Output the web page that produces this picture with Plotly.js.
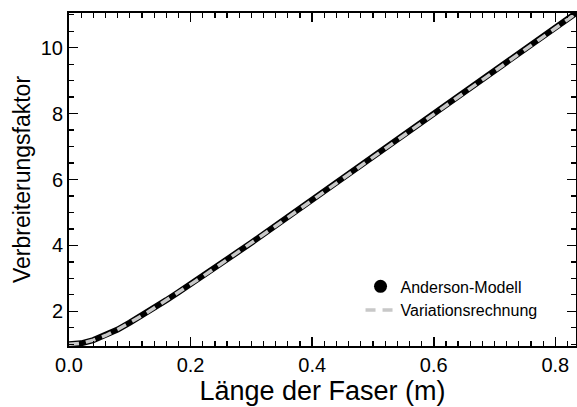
<!DOCTYPE html>
<html>
<head>
<meta charset="utf-8">
<script src="https://cdn.plot.ly/plotly-3.0.1.min.js"></script>
<style>html,body{margin:0;padding:0;background:#fff;}#chart{width:577px;height:407px;}</style>
</head>
<body>
<div id="chart"></div>
<script>
// Length of fibre (m)
var lengthM = [0.00,0.02,0.04,0.06,0.08,0.10,0.12,0.14,0.16,0.18,0.20,0.22,0.24,0.26,0.28,0.30,0.32,0.34,0.36,0.38,0.40,0.42,0.44,0.46,0.48,0.50,0.52,0.54,0.56,0.58,0.60,0.62,0.64,0.66,0.68,0.70,0.72,0.74,0.76,0.78,0.80,0.82,0.834];
// Broadening factor, Anderson model
var andersonFactor = [1.00,1.03,1.13,1.28,1.45,1.66,1.87,2.10,2.34,2.58,2.82,3.07,3.32,3.57,3.83,4.08,4.34,4.60,4.85,5.11,5.37,5.63,5.89,6.15,6.41,6.67,6.93,7.19,7.46,7.72,7.98,8.24,8.50,8.76,9.03,9.29,9.55,9.81,10.08,10.34,10.60,10.86,11.05];
// Broadening factor, variational calculation
var variationFactor = [1.00,1.03,1.13,1.27,1.45,1.65,1.87,2.10,2.33,2.57,2.82,3.06,3.31,3.57,3.82,4.08,4.33,4.59,4.85,5.11,5.37,5.62,5.88,6.14,6.40,6.66,6.92,7.19,7.45,7.71,7.97,8.23,8.49,8.76,9.02,9.28,9.54,9.80,10.07,10.33,10.59,10.85,11.04];

var seriesNames = ["Anderson-Modell", "Variationsrechnung"];
var xTitle = "Länge der Faser (m)";
var yTitle = "Verbreiterungsfaktor";

var traces = [
  {x: lengthM, y: andersonFactor, type: "scatter", mode: "lines",
   line: {color: "#000000", width: 6}, showlegend: false, hoverinfo: "skip"},
  {x: [null], y: [null], type: "scatter", mode: "markers", name: seriesNames[0],
   marker: {color: "#000000", size: 13}},
  {x: lengthM, y: variationFactor, type: "scatter", mode: "lines", name: seriesNames[1],
   line: {color: "#c8c8c8", width: 3.5, dash: "10px,7px"}}
];

var axisCommon = {
  showline: true, linecolor: "#000", linewidth: 2, mirror: "ticks",
  ticks: "inside", ticklen: 9, tickwidth: 1.5, tickcolor: "#000",
  showgrid: false, zeroline: false,
  tickfont: {family: "Liberation Sans, Arial, sans-serif", size: 20, color: "#000"}
};

var layout = {
  width: 577, height: 407,
  margin: {l: 69, r: 1, t: 13, b: 61},
  paper_bgcolor: "#fff", plot_bgcolor: "#fff",
  font: {family: "Liberation Sans, Arial, sans-serif", color: "#000"},
  xaxis: Object.assign({}, axisCommon, {
    range: [0, 0.834], tick0: 0, dtick: 0.2, tickformat: ".1f",
    minor: {dtick: 0.02, ticks: "inside", ticklen: 5, tickwidth: 1.2, tickcolor: "#000"},
    title: {text: xTitle, font: {size: 27, color: "#000"}, standoff: 0}
  }),
  yaxis: Object.assign({}, axisCommon, {
    range: [0.95, 11.05], tick0: 0, dtick: 2,
    minor: {dtick: 0.5, ticks: "inside", ticklen: 5, tickwidth: 1.2, tickcolor: "#000"},
    title: {text: yTitle, font: {size: 23, color: "#000"}, standoff: 4}
  }),
  legend: {x: 0.575, y: 0.23, xanchor: "left", yanchor: "top",
    bgcolor: "rgba(0,0,0,0)", font: {size: 16, color: "#000"},
    itemwidth: 30, tracegroupgap: 0},
  showlegend: true
};

Plotly.newPlot("chart", traces, layout, {staticPlot: true, displayModeBar: false});
</script>
</body>
</html>
